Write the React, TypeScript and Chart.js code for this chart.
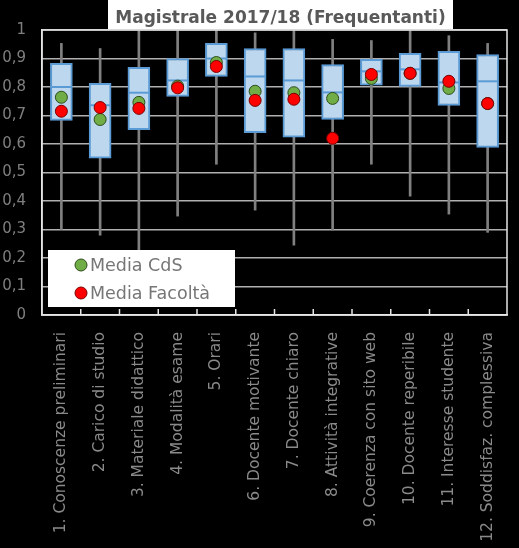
import React, { useEffect, useRef } from "react";
import { Chart, registerables } from "chart.js";

Chart.register(...registerables);

const categories = [
  "1. Conoscenze preliminari",
  "2. Carico di studio",
  "3. Materiale didattico",
  "4. Modalità esame",
  "5. Orari",
  "6. Docente motivante",
  "7. Docente chiaro",
  "8. Attività integrative",
  "9. Coerenza con sito web",
  "10. Docente reperibile",
  "11. Interesse studente",
  "12. Soddisfaz. complessiva",
];

const whiskerMin = [0.3, 0.28, 0.2, 0.347, 0.529, 0.368, 0.245, 0.298, 0.529, 0.417, 0.354, 0.29];
const whiskerMax = [0.953, 0.935, 1.0, 1.0, 1.0, 0.99, 1.0, 0.967, 0.963, 1.0, 0.98, 0.953];
const q1 = [0.683, 0.55, 0.65, 0.767, 0.837, 0.64, 0.624, 0.686, 0.806, 0.802, 0.735, 0.588];
const q3 = [0.883, 0.813, 0.869, 0.9, 0.953, 0.935, 0.935, 0.879, 0.897, 0.918, 0.925, 0.914];
const median = [0.8, 0.736, 0.78, 0.823, 0.9, 0.837, 0.823, 0.781, 0.855, 0.862, 0.816, 0.82];
const mediaCdS = [0.764, 0.686, 0.746, 0.803, 0.886, 0.785, 0.78, 0.76, 0.83, 0.848, 0.795, 0.742];
const mediaFacolta = [0.715, 0.728, 0.725, 0.797, 0.872, 0.753, 0.757, 0.62, 0.844, 0.848, 0.82, 0.742];

const yTicks = [0, 0.1, 0.2, 0.3, 0.4, 0.5, 0.6, 0.7, 0.8, 0.9, 1];

const titleText = "Magistrale 2017/18 (Frequentanti)";
const legendLabels = ["Media CdS", "Media Facoltà"];

const GREEN = "#70ad47";
const RED = "#ff0000";
const FONT = "'DejaVu Sans', sans-serif";

const decor = {
  id: "decor",
  beforeDraw(chart: any) {
    const ctx = chart.ctx;
    ctx.save();
    ctx.fillStyle = "#000";
    ctx.fillRect(0, 0, chart.width, chart.height);
    ctx.restore();
  },
  afterDatasetsDraw(chart: any) {
    const ctx = chart.ctx;
    const a = chart.chartArea;
    const xs = chart.scales.x;
    ctx.save();
    // plot border
    ctx.strokeStyle = "#e6e6e6";
    ctx.lineWidth = 1.5;
    ctx.strokeRect(a.left, a.top, a.right - a.left, a.bottom - a.top);
    // inner tick marks at category boundaries
    ctx.beginPath();
    for (let i = 1; i < categories.length; i++) {
      const x = (xs.getPixelForTick(i - 1) + xs.getPixelForTick(i)) / 2;
      ctx.moveTo(x, a.bottom);
      ctx.lineTo(x, a.bottom - 6);
    }
    ctx.stroke();

    // title box
    ctx.fillStyle = "#ffffff";
    ctx.fillRect(108, 0, 345, 29);
    let size = 20;
    ctx.font = `bold ${size}px ${FONT}`;
    while (ctx.measureText(titleText).width > 333 && size > 10) {
      size -= 0.5;
      ctx.font = `bold ${size}px ${FONT}`;
    }
    ctx.fillStyle = "#595959";
    ctx.textAlign = "center";
    ctx.textBaseline = "alphabetic";
    ctx.fillText(titleText, 280.5, 23);

    // legend box
    ctx.fillStyle = "#ffffff";
    ctx.fillRect(48, 250, 187, 57);
    const colors = [GREEN, RED];
    const borders = ["#2e4d1a", "#7a0000"];
    const ys = [265, 293];
    ctx.textAlign = "left";
    ctx.textBaseline = "middle";
    ctx.font = `17.5px ${FONT}`;
    for (let i = 0; i < 2; i++) {
      ctx.beginPath();
      ctx.arc(81, ys[i], 6, 0, Math.PI * 2);
      ctx.fillStyle = colors[i];
      ctx.fill();
      ctx.lineWidth = 1;
      ctx.strokeStyle = borders[i];
      ctx.stroke();
      ctx.fillStyle = "#767676";
      ctx.fillText(legendLabels[i], 90, ys[i] + 1);
    }
    ctx.restore();
  },
};

export default function App() {
  const ref = useRef<HTMLCanvasElement>(null);
  useEffect(() => {
    document.body.style.margin = "0";
    document.body.style.background = "#000";
    const chart = new Chart(ref.current!, {
      type: "bar",
      data: {
        labels: categories,
        datasets: [
          {
            type: "line",
            label: "Media Facoltà",
            data: mediaFacolta,
            showLine: false,
            pointRadius: 6,
            pointBackgroundColor: RED,
            pointBorderColor: "#7a0000",
            pointBorderWidth: 1,
            order: 0,
          } as any,
          {
            type: "line",
            label: "Media CdS",
            data: mediaCdS,
            showLine: false,
            pointRadius: 6,
            pointBackgroundColor: GREEN,
            pointBorderColor: "#2e4d1a",
            pointBorderWidth: 1,
            order: 1,
          } as any,
          {
            type: "line",
            label: "Mediana",
            data: median,
            showLine: false,
            pointStyle: "line",
            pointRadius: 10,
            pointBorderColor: "#5b9bd5",
            pointBorderWidth: 2,
            order: 2,
          } as any,
          {
            type: "bar",
            label: "Box",
            data: q1.map((v, i) => [v, q3[i]]),
            backgroundColor: "#bdd7ee",
            borderColor: "#5b9bd5",
            borderWidth: 2,
            borderSkipped: false,
            barThickness: 22,
            grouped: false,
            order: 3,
          } as any,
          {
            type: "bar",
            label: "Whisker",
            data: whiskerMin.map((v, i) => [v, whiskerMax[i]]),
            backgroundColor: "#808080",
            borderWidth: 0,
            barThickness: 2,
            grouped: false,
            order: 4,
          } as any,
        ],
      },
      options: {
        animation: false,
        responsive: false,
        layout: { padding: { top: 30, right: 9, left: 0, bottom: 0 } },
        plugins: {
          legend: { display: false },
          title: { display: false },
          tooltip: { enabled: false },
        },
        scales: {
          x: {
            offset: true,
            grid: { display: false },
            border: { display: true, color: "#e6e6e6", width: 1.5 },
            ticks: {
              minRotation: 90,
              maxRotation: 90,
              padding: 9,
              color: "#8a8a8a",
              font: { family: FONT, size: 15.5 },
            },
            afterFit(s: any) {
              s.height = 233;
            },
          },
          y: {
            min: 0,
            max: 1,
            afterBuildTicks(s: any) {
              s.ticks = yTicks.map((v) => ({ value: v }));
            },
            grid: { color: "#b0b0b0", lineWidth: 1.5, drawTicks: false },
            border: { display: true, color: "#e6e6e6", width: 1.5 },
            ticks: {
              padding: 16,
              color: "#7f7f7f",
              font: { family: FONT, size: 15 },
              callback: (v: any) => String(Math.round(Number(v) * 10) / 10).replace(".", ","),
            },
            afterFit(s: any) {
              s.width = 42;
            },
          },
        },
      },
      plugins: [decor],
    });
    return () => chart.destroy();
  }, []);
  return (
    <div style={{ position: "absolute", left: 0, top: 0, width: 519, height: 548, background: "#000" }}>
      <canvas ref={ref} width={519} height={548} style={{ display: "block" }} />
    </div>
  );
}
